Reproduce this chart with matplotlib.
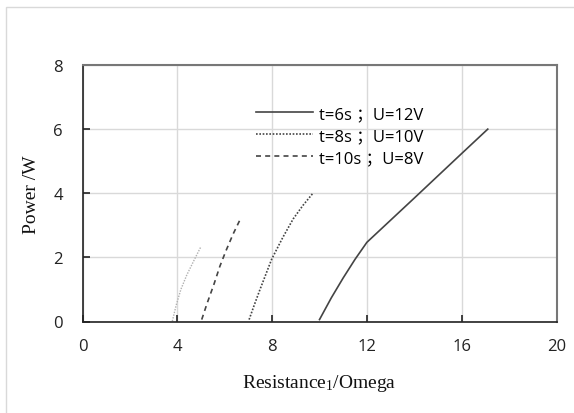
import matplotlib
matplotlib.use("Agg")
import matplotlib.pyplot as plt
from matplotlib.patches import Rectangle

# Data
r_t6 = [10.0, 10.5, 11.0, 11.5, 12.0, 14.0, 16.0, 17.1]
p_t6 = [0.06, 0.74, 1.36, 1.94, 2.47, 3.85, 5.24, 6.0]

r_t8 = [7.03, 7.25, 7.49, 7.98, 8.45, 8.89, 9.3, 9.70]
p_t8 = [0.06, 0.52, 1.0, 1.94, 2.62, 3.2, 3.62, 3.98]

r_t10 = [5.03, 5.25, 5.55, 5.80, 6.05, 6.35, 6.65]
p_t10 = [0.06, 0.55, 1.17, 1.73, 2.2, 2.72, 3.18]

r_extra = [3.79, 3.95, 4.15, 4.4, 4.7, 5.0]
p_extra = [0.01, 0.5, 1.0, 1.45, 1.9, 2.34]

labels = ["t=6s ；U=12V", "t=8s ；U=10V", "t=10s ；U=8V"]
xticks = [0, 4, 8, 12, 16, 20]
yticks = [0, 2, 4, 6, 8]

plt.rcParams['mathtext.fontset'] = 'custom'
plt.rcParams['mathtext.rm'] = 'Liberation Serif'
plt.rcParams['mathtext.it'] = 'Liberation Serif'

fig = plt.figure(figsize=(5.74, 4.14), dpi=100)
fig.patches.append(Rectangle((6/574, -0.5), 2.0, (414-8)/414 + 0.5,
                             transform=fig.transFigure, fill=False,
                             edgecolor='#d9d9d9', linewidth=1.0))
ax = fig.add_axes([82.5/574, 1-322.5/414, (556.5-82.5)/574, (322.5-66)/414])

ax.plot(r_extra, p_extra, color='#b0b0b0', linewidth=1.0, linestyle=(0, (1, 1)))
ax.plot(r_t10, p_t10, color='#444444', linewidth=1.2, linestyle=(0, (3, 2.5)), label=labels[2])
ax.plot(r_t8, p_t8, color='#444444', linewidth=1.2, linestyle=(0, (1, 1)), label=labels[1])
ax.plot(r_t6, p_t6, color='#444444', linewidth=1.2, linestyle='-', label=labels[0])

ax.set_xlim(0, 20)
ax.set_ylim(0, 8)
ax.set_xticks(xticks)
ax.set_yticks(yticks)
ax.grid(True, color='#d9d9d9', linewidth=1.0)
ax.set_axisbelow(True)

for s in ['top', 'right']:
    ax.spines[s].set_color('#777777')
    ax.spines[s].set_linewidth(1.5)
for s in ['left', 'bottom']:
    ax.spines[s].set_color('#222222')
    ax.spines[s].set_linewidth(1.2)

ax.tick_params(axis='both', direction='in', length=5, width=1.2, color='#222222',
               labelsize=12, labelcolor='#222222')
ax.tick_params(axis='x', pad=12)
ax.tick_params(axis='y', pad=14)
for lab in ax.get_xticklabels() + ax.get_yticklabels():
    lab.set_family(['Open Sans', 'DejaVu Sans'])

ax.set_xlabel("Resistance$_1$/Omega", family='Liberation Serif', fontsize=14,
              color='#111111', labelpad=13)
ax.set_ylabel("Power /W", family='Liberation Serif', fontsize=14,
              color='#111111', labelpad=10)

handles, labs = ax.get_legend_handles_labels()
order = [2, 1, 0]
leg = ax.legend([handles[i] for i in order], [labs[i] for i in order],
                loc='upper left', bbox_to_anchor=(0.352, 0.865), frameon=False,
                prop={'family': ['Open Sans', 'Noto Sans CJK SC'], 'size': 12},
                handlelength=3.4, handletextpad=0.35, labelspacing=0.35,
                borderaxespad=0)

fig.savefig("out.png", dpi=100)
